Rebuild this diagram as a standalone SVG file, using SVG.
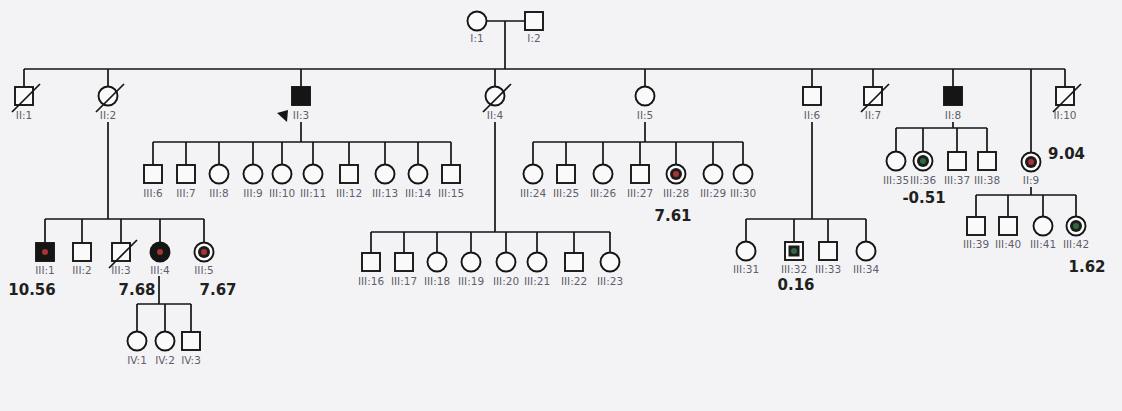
<svg xmlns="http://www.w3.org/2000/svg" xmlns:xlink="http://www.w3.org/1999/xlink" width="1122" height="411" viewBox="0 0 1122 411">
<style>
.ln{stroke:#151515;stroke-width:1.7;fill:none}
.sym{fill:#fafafb;stroke:#151515;stroke-width:1.9}
.aff{fill:#151515;stroke:#151515;stroke-width:1.9}
.dead{stroke:#151515;stroke-width:1.7}
.core{fill:#1c1c1c}
.red{fill:#a83434}
.grn{fill:#2e6b3c}
.lbl{font-family:"DejaVu Sans","Liberation Sans",sans-serif;font-size:10.5px;fill:#5e5e6c;text-anchor:middle}
.val{font-family:"DejaVu Sans","Liberation Sans",sans-serif;font-size:15px;font-weight:bold;fill:#202020;text-anchor:middle}
</style>
<defs>
<rect id="sq" x="-9" y="-9" width="18" height="18" class="sym"/>
<rect id="sqA" x="-9" y="-9" width="18" height="18" class="aff"/>
<circle id="ci" r="9.5" class="sym"/>
<circle id="ciA" r="9.5" class="aff"/>
<line id="slash" x1="-12" y1="16" x2="16" y2="-12" class="dead"/>
</defs>
<rect width="1122" height="411" fill="#f3f3f5"/>

<g id="connectors">
<path class="ln" d="M486.5 21H525M505 21V69"/>
<path class="ln" d="M24 69H1065"/>
<path class="ln" d="M24 69V87M108 69V86.5M301 69V87M495 69V86.5M645 69V86.5M812 69V87M873 69V87M953 69V87M1031 69V152.5M1065 69V87"/>
<path class="ln" d="M108 122V219M45 219H204M45 219V243M82 219V243M121 219V243M160 219V242.5M204 219V242.5"/>
<path class="ln" d="M301 122V142M153 142H451M153 142V165M186 142V165M219 142V164.5M253 142V164.5M282 142V164.5M313 142V164.5M349 142V165M385 142V164.5M418 142V164.5M451 142V165"/>
<path class="ln" d="M495 122V232M371 232H610M371 232V253M404 232V253M437 232V252.5M471 232V252.5M506 232V252.5M537 232V252.5M574 232V253M610 232V252.5"/>
<path class="ln" d="M645 122V142M533 142H743M533 142V164.5M566 142V165M603 142V164.5M640 142V165M676 142V164.5M713 142V164.5M743 142V164.5"/>
<path class="ln" d="M812 122V219M746 219H866M746 219V241.5M794 219V242M828 219V242M866 219V241.5"/>
<path class="ln" d="M953 122V128M896 128H987M896 128V151.5M923 128V151.5M957 128V152M987 128V152"/>
<path class="ln" d="M1031 187V195M976 195H1076M976 195V217M1008 195V217M1043 195V216.5M1076 195V216.5"/>
<path class="ln" d="M159 276V304M137 304H191M137 304V331.5M165 304V331.5M191 304V332"/>
</g>

<g id="I1" transform="translate(477,21)"><use href="#ci"/><text class="lbl" y="21">I:1</text></g>
<g id="I2" transform="translate(534,21)"><use href="#sq"/><text class="lbl" y="21">I:2</text></g>

<g id="II1" transform="translate(24,96)"><use href="#sq"/><use href="#slash"/><text class="lbl" y="23">II:1</text></g>
<g id="II2" transform="translate(108,96)"><use href="#ci"/><use href="#slash"/><text class="lbl" y="23">II:2</text></g>
<g id="II3" transform="translate(301,96)"><use href="#sqA"/><polygon points="-24,17 -13,14 -14,26" fill="#151515"/><text class="lbl" y="23">II:3</text></g>
<g id="II4" transform="translate(495,96)"><use href="#ci"/><use href="#slash"/><text class="lbl" y="23">II:4</text></g>
<g id="II5" transform="translate(645,96)"><use href="#ci"/><text class="lbl" y="23">II:5</text></g>
<g id="II6" transform="translate(812,96)"><use href="#sq"/><text class="lbl" y="23">II:6</text></g>
<g id="II7" transform="translate(873,96)"><use href="#sq"/><use href="#slash"/><text class="lbl" y="23">II:7</text></g>
<g id="II8" transform="translate(953,96)"><use href="#sqA"/><text class="lbl" y="23">II:8</text></g>
<g id="II9" transform="translate(1031,162)"><use href="#ci"/><circle r="6" class="core"/><circle r="3" class="red"/><text class="lbl" y="22">II:9</text><text class="val" x="17" y="-3" style="text-anchor:start">9.04</text></g>
<g id="II10" transform="translate(1065,96)"><use href="#sq"/><use href="#slash"/><text class="lbl" y="23">II:10</text></g>

<g id="III1" transform="translate(45,252)"><use href="#sqA"/><circle r="3" class="red"/><text class="lbl" y="22">III:1</text><text class="val" x="-13" y="43">10.56</text></g>
<g id="III2" transform="translate(82,252)"><use href="#sq"/><text class="lbl" y="22">III:2</text></g>
<g id="III3" transform="translate(121,252)"><use href="#sq"/><use href="#slash"/><text class="lbl" y="22">III:3</text></g>
<g id="III4" transform="translate(160,252)"><use href="#ciA"/><circle r="3" class="red"/><text class="lbl" y="22">III:4</text><text class="val" x="-23" y="43">7.68</text></g>
<g id="III5" transform="translate(204,252)"><use href="#ci"/><circle r="6" class="core"/><circle r="3" class="red"/><text class="lbl" y="22">III:5</text><text class="val" x="14" y="43">7.67</text></g>

<g id="III6" transform="translate(153,174)"><use href="#sq"/><text class="lbl" y="23">III:6</text></g>
<g id="III7" transform="translate(186,174)"><use href="#sq"/><text class="lbl" y="23">III:7</text></g>
<g id="III8" transform="translate(219,174)"><use href="#ci"/><text class="lbl" y="23">III:8</text></g>
<g id="III9" transform="translate(253,174)"><use href="#ci"/><text class="lbl" y="23">III:9</text></g>
<g id="III10" transform="translate(282,174)"><use href="#ci"/><text class="lbl" y="23">III:10</text></g>
<g id="III11" transform="translate(313,174)"><use href="#ci"/><text class="lbl" y="23">III:11</text></g>
<g id="III12" transform="translate(349,174)"><use href="#sq"/><text class="lbl" y="23">III:12</text></g>
<g id="III13" transform="translate(385,174)"><use href="#ci"/><text class="lbl" y="23">III:13</text></g>
<g id="III14" transform="translate(418,174)"><use href="#ci"/><text class="lbl" y="23">III:14</text></g>
<g id="III15" transform="translate(451,174)"><use href="#sq"/><text class="lbl" y="23">III:15</text></g>

<g id="III16" transform="translate(371,262)"><use href="#sq"/><text class="lbl" y="23">III:16</text></g>
<g id="III17" transform="translate(404,262)"><use href="#sq"/><text class="lbl" y="23">III:17</text></g>
<g id="III18" transform="translate(437,262)"><use href="#ci"/><text class="lbl" y="23">III:18</text></g>
<g id="III19" transform="translate(471,262)"><use href="#ci"/><text class="lbl" y="23">III:19</text></g>
<g id="III20" transform="translate(506,262)"><use href="#ci"/><text class="lbl" y="23">III:20</text></g>
<g id="III21" transform="translate(537,262)"><use href="#ci"/><text class="lbl" y="23">III:21</text></g>
<g id="III22" transform="translate(574,262)"><use href="#sq"/><text class="lbl" y="23">III:22</text></g>
<g id="III23" transform="translate(610,262)"><use href="#ci"/><text class="lbl" y="23">III:23</text></g>

<g id="III24" transform="translate(533,174)"><use href="#ci"/><text class="lbl" y="23">III:24</text></g>
<g id="III25" transform="translate(566,174)"><use href="#sq"/><text class="lbl" y="23">III:25</text></g>
<g id="III26" transform="translate(603,174)"><use href="#ci"/><text class="lbl" y="23">III:26</text></g>
<g id="III27" transform="translate(640,174)"><use href="#sq"/><text class="lbl" y="23">III:27</text></g>
<g id="III28" transform="translate(676,174)"><use href="#ci"/><circle r="6" class="core"/><circle r="3" class="red"/><text class="lbl" y="23">III:28</text><text class="val" x="-3" y="47">7.61</text></g>
<g id="III29" transform="translate(713,174)"><use href="#ci"/><text class="lbl" y="23">III:29</text></g>
<g id="III30" transform="translate(743,174)"><use href="#ci"/><text class="lbl" y="23">III:30</text></g>

<g id="III31" transform="translate(746,251)"><use href="#ci"/><text class="lbl" y="22">III:31</text></g>
<g id="III32" transform="translate(794,251)"><use href="#sq"/><rect x="-5.5" y="-5.5" width="11" height="11" class="core"/><circle r="3" class="grn"/><text class="lbl" y="22">III:32</text><text class="val" x="2" y="39">0.16</text></g>
<g id="III33" transform="translate(828,251)"><use href="#sq"/><text class="lbl" y="22">III:33</text></g>
<g id="III34" transform="translate(866,251)"><use href="#ci"/><text class="lbl" y="22">III:34</text></g>

<g id="III35" transform="translate(896,161)"><use href="#ci"/><text class="lbl" y="23">III:35</text></g>
<g id="III36" transform="translate(923,161)"><use href="#ci"/><circle r="6" class="core"/><circle r="3" class="grn"/><text class="lbl" y="23">III:36</text><text class="val" x="1" y="42">-0.51</text></g>
<g id="III37" transform="translate(957,161)"><use href="#sq"/><text class="lbl" y="23">III:37</text></g>
<g id="III38" transform="translate(987,161)"><use href="#sq"/><text class="lbl" y="23">III:38</text></g>

<g id="III39" transform="translate(976,226)"><use href="#sq"/><text class="lbl" y="22">III:39</text></g>
<g id="III40" transform="translate(1008,226)"><use href="#sq"/><text class="lbl" y="22">III:40</text></g>
<g id="III41" transform="translate(1043,226)"><use href="#ci"/><text class="lbl" y="22">III:41</text></g>
<g id="III42" transform="translate(1076,226)"><use href="#ci"/><circle r="6" class="core"/><circle r="3" class="grn"/><text class="lbl" y="22">III:42</text><text class="val" x="11" y="46">1.62</text></g>

<g id="IV1" transform="translate(137,341)"><use href="#ci"/><text class="lbl" y="23">IV:1</text></g>
<g id="IV2" transform="translate(165,341)"><use href="#ci"/><text class="lbl" y="23">IV:2</text></g>
<g id="IV3" transform="translate(191,341)"><use href="#sq"/><text class="lbl" y="23">IV:3</text></g>
</svg>
